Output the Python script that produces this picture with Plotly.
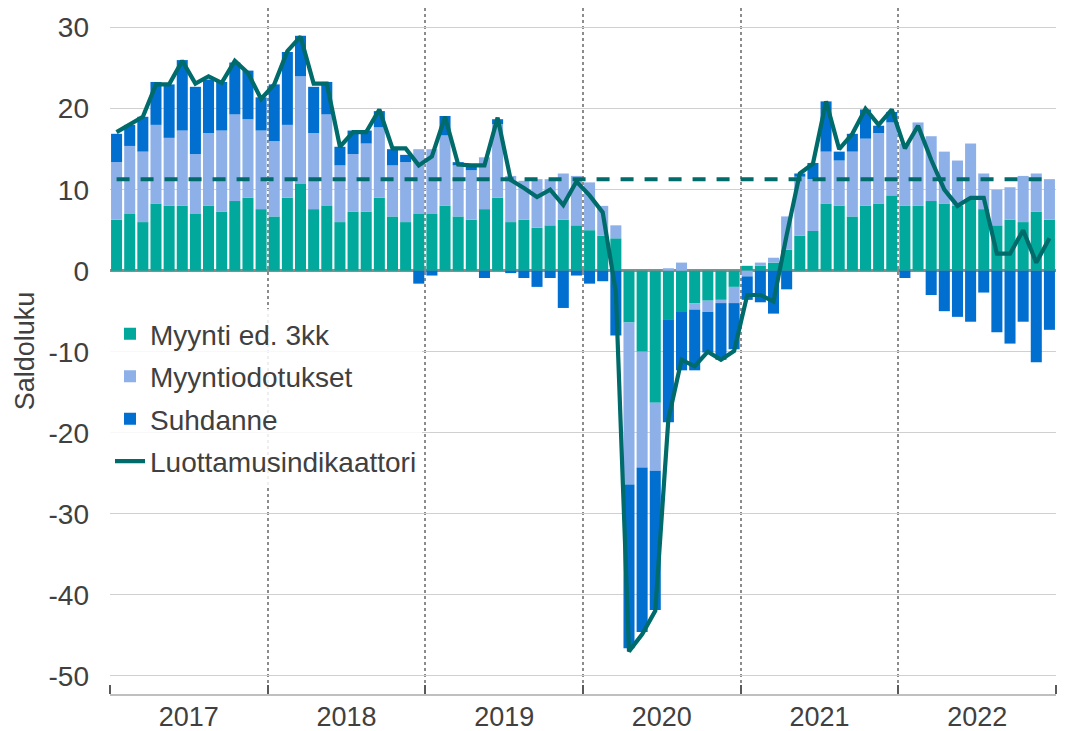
import plotly.graph_objects as go

# ---- data -------------------------------------------------------------
years = ["2017", "2018", "2019", "2020", "2021", "2022"]
month_index = list(range(72))  # Jan 2017 ... Dec 2022

myynti = [  # Myynti ed. 3kk
    6.3, 7.0, 6.0, 8.3, 8.0, 8.0, 7.0, 8.0, 7.3, 8.6, 9.0, 7.6,
    6.7, 9.0, 10.7, 7.6, 8.0, 6.0, 7.3, 7.3, 9.0, 6.7, 6.0, 7.0,
    7.0, 8.0, 6.7, 6.3, 7.6, 9.0, 6.0, 6.3, 5.3, 5.6, 6.3, 5.6,
    5.0, 4.3, 4.0, -6.4, -10.0, -16.3, -6.0, -5.0, -4.0, -3.7, -3.6, -2.0,
    0.6, 0.6, 1.0, 2.6, 4.3, 4.9, 8.3, 8.0, 6.7, 8.0, 8.3, 9.3,
    8.0, 8.0, 8.6, 8.3, 8.0, 8.8, 7.6, 5.6, 6.3, 6.0, 7.3, 6.3,
]
odotukset = [  # Myyntiodotukset
    7.1, 8.4, 8.7, 9.7, 8.4, 9.3, 7.4, 9.0, 10.0, 10.7, 9.7, 9.7,
    9.3, 9.0, 13.3, 9.4, 11.3, 7.0, 7.1, 8.4, 8.7, 6.3, 7.4, 8.0,
    8.0, 8.7, 6.3, 6.1, 6.4, 9.1, 5.7, 4.8, 6.0, 5.7, 5.7, 6.1,
    5.9, 3.7, 1.6, -20.0, -14.3, -8.4, 0.3, 1.0, -0.8, -1.4, -0.4, -2.0,
    -0.7, 0.4, 0.6, 4.1, 7.3, 6.4, 6.4, 5.6, 8.0, 8.3, 8.7, 9.0,
    7.7, 10.3, 8.0, 6.4, 5.6, 6.9, 4.4, 4.4, 4.0, 5.7, 4.7, 5.0,
]
suhdanne = [  # Suhdanne
    3.5, 2.6, 4.3, 5.3, 6.6, 8.7, 8.3, 6.6, 6.0, 6.4, 6.0, 4.1,
    7.0, 9.0, 5.0, 5.7, 4.0, 2.3, 2.9, 1.6, 2.0, 2.0, 0.9, -1.6,
    -0.6, 2.4, 0.4, 0.5, -0.9, 0.6, -0.3, -0.9, -2.0, -0.9, -4.6, -0.6,
    -1.6, -1.3, -8.0, -20.2, -20.3, -17.2, -12.7, -7.3, -7.5, -5.0, -7.0, -5.7,
    -2.9, -3.9, -5.3, -2.3, 0.4, 2.0, 6.2, 1.1, 2.2, 3.6, 0.9, 1.3,
    -0.9, 0.0, -3.0, -5.0, -5.7, -6.3, -2.7, -7.6, -9.0, -6.3, -11.3, -7.3,
]
luottamus = [  # Luottamusindikaattori
    17.1, 18.1, 19.0, 23.0, 23.0, 25.9, 23.1, 24.0, 23.2, 25.9, 24.4, 21.2,
    23.0, 27.1, 28.9, 23.1, 23.1, 15.3, 17.1, 17.1, 19.9, 15.1, 15.1, 13.0,
    14.1, 19.0, 13.1, 13.0, 13.0, 18.9, 11.2, 10.2, 9.1, 10.0, 8.1, 11.0,
    9.3, 7.2, -2.6, -47.0, -44.9, -42.0, -18.3, -11.0, -11.8, -10.0, -11.0, -9.9,
    -3.0, -3.0, -3.8, 4.4, 12.0, 13.2, 20.9, 15.0, 16.9, 20.0, 18.0, 19.9,
    15.1, 17.9, 13.7, 10.0, 8.0, 9.0, 9.0, 2.1, 2.1, 5.0, 1.0, 4.0,
]
keskiarvo = 11.3  # long-term average (dashed)
y_ticks = [30, 20, 10, 0, -10, -20, -30, -40, -50]

# ---- styling -----------------------------------------------------------
TEAL = "#00A99B"
LIGHT = "#8DB0E8"
BLUE = "#006FD0"
LINE = "#006B6B"
TXT = "#404040"
FONT = "Liberation Sans, Arial, sans-serif"

fig = go.Figure()
for name, vals, col in [("Myynti ed. 3kk", myynti, TEAL),
                        ("Myyntiodotukset", odotukset, LIGHT),
                        ("Suhdanne", suhdanne, BLUE)]:
    fig.add_trace(go.Bar(x=month_index, y=vals, name=name, marker_color=col,
                         marker_line_width=0, legendgroup=name))

fig.add_trace(go.Scatter(x=month_index, y=[keskiarvo] * len(month_index), mode="lines",
                         line=dict(color=LINE, width=4, dash="13px,11px"),
                         showlegend=False, hoverinfo="skip"))
fig.add_trace(go.Scatter(x=month_index, y=luottamus, mode="lines", name="Luottamusindikaattori",
                         line=dict(color=LINE, width=4.2), legendgroup="line"))

n_years = len(years)
# the page body adds an 8px offset, so the figure is 8px smaller than the window
fig.update_layout(
    width=1063, height=723,
    margin=dict(l=102, r=15, t=0, b=37),
    paper_bgcolor="white", plot_bgcolor="white",
    barmode="relative", bargap=0.16,
    font=dict(family=FONT, size=28, color=TXT),
    legend=dict(x=0.0, y=0.561, xanchor="left", yanchor="top",
                bgcolor="rgba(255,255,255,0.85)", traceorder="grouped",
                tracegroupgap=3, font=dict(size=28, color=TXT),
                itemwidth=30),
    xaxis=dict(
        range=[-0.5, 71.5], automargin=False,
        tickmode="array",
        tickvals=[12 * i + 5.5 for i in range(n_years)],
        ticktext=years,
        ticks="", showgrid=False, zeroline=False,
        showline=True, linecolor="#BFBFBF", linewidth=2,
        tickfont=dict(size=27, color=TXT), ticklabelstandoff=-2,
        minor=dict(tickmode="array",
                   tickvals=[12 * i - 0.5 for i in range(n_years + 1)],
                   ticks="inside", ticklen=9, tickwidth=1.5, tickcolor="#595959",
                   showgrid=True, gridcolor="#8C8C8C", gridwidth=1.5, griddash="dot"),
    ),
    yaxis=dict(
        range=[-52.26, 32.43], automargin=False,
        tickmode="array", tickvals=y_ticks,
        ticktext=[str(v) for v in y_ticks],
        showgrid=True, gridcolor="#D0D0D0", gridwidth=1.3,
        zeroline=True, zerolinecolor="#8C8C8C", zerolinewidth=2.5,
        showline=False, ticks="", ticklabelstandoff=20,
        tickfont=dict(size=28, color=TXT),
        title=dict(text="Saldoluku", font=dict(size=27, color=TXT), standoff=6),
    ),
)

fig.write_html("out.html")
